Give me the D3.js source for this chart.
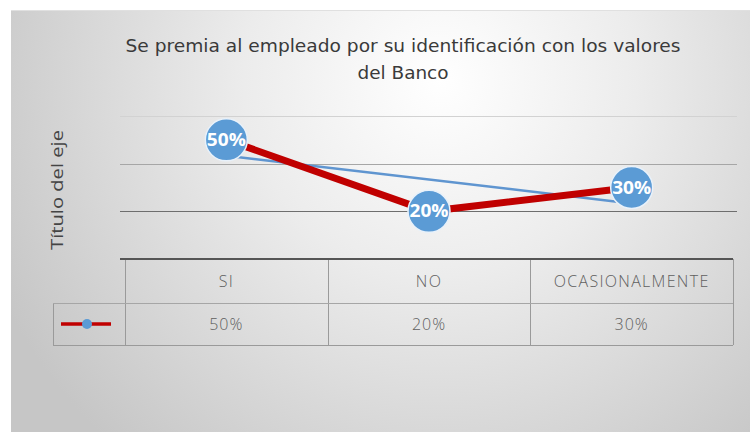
<!DOCTYPE html>
<html>
<head>
<meta charset="utf-8">
<script src="https://cdn.jsdelivr.net/npm/d3@7"></script>
<style>
  html, body { margin: 0; padding: 0; background: #fff; }
  svg { display: block; }
</style>
</head>
<body>
<div id="chart"></div>
<script>
// ── Data ─────────────────────────────────────────────────────
const categories = ['SI', 'NO', 'OCASIONALMENTE'];
const values     = [0.5, 0.2, 0.3];
const valueLabels = ['50%', '20%', '30%'];
const yTicks     = [0.2, 0.4, 0.6];
const titleLines = ['Se premia al empleado por su identificación con los valores', 'del Banco'];
const axisTitle  = 'Título del eje';

const W = 750, H = 432;
const FONT   = "'Open Sans', 'Noto Sans', sans-serif";
const NARROW = "'Liberation Sans Narrow', 'DejaVu Sans Condensed', 'Open Sans', sans-serif";

const svg = d3.select('#chart').append('svg')
  .attr('width', W).attr('height', H);

// ── Background ───────────────────────────────────────────────
const defs = svg.append('defs');
const grad = defs.append('radialGradient')
  .attr('id', 'bg').attr('gradientUnits', 'userSpaceOnUse')
  .attr('cx', 440).attr('cy', 80).attr('r', 490);
grad.append('stop').attr('offset', '0%').attr('stop-color', '#ffffff');
grad.append('stop').attr('offset', '40%').attr('stop-color', '#ececec');
grad.append('stop').attr('offset', '100%').attr('stop-color', '#c6c6c6');

svg.append('rect').attr('x', 11).attr('y', 10)
  .attr('width', W - 11).attr('height', H - 10)
  .attr('fill', 'url(#bg)');
svg.append('line').attr('x1', 11).attr('x2', W).attr('y1', 10.5).attr('y2', 10.5)
  .attr('stroke', '#e0e0e0');

// ── Scales ───────────────────────────────────────────────────
const x = d3.scaleBand().domain(categories).range([125, 733]);
const y = d3.scaleLinear().domain([0, 0.6]).range([259, 116]);
const cx = c => x(c) + x.bandwidth() / 2;

// ── Title ────────────────────────────────────────────────────
const titleWidths = [555, 91];
svg.append('g').selectAll('text').data(titleLines).join('text')
  .attr('x', 403).attr('y', (d, i) => 52 + i * 27)
  .attr('text-anchor', 'middle')
  .attr('fill', '#3a3a3a').attr('font-family', NARROW).attr('font-size', 17.5)
  .attr('textLength', (d, i) => titleWidths[i])
  .attr('lengthAdjust', 'spacingAndGlyphs')
  .text(d => d);

// Axis title
svg.append('text')
  .attr('transform', 'translate(63,190) rotate(-90)')
  .attr('text-anchor', 'middle')
  .attr('fill', '#444').attr('font-family', FONT).attr('font-size', 16)
  .attr('textLength', 120).attr('lengthAdjust', 'spacingAndGlyphs')
  .text(axisTitle);

// ── Gridlines ────────────────────────────────────────────────
const gridColors = ['#6e6e6e', '#a6a6a6', '#d2d2d2'];
svg.append('g').selectAll('line').data(yTicks).join('line')
  .attr('x1', 120).attr('x2', 737)
  .attr('y1', d => Math.round(y(d)) + 0.5).attr('y2', d => Math.round(y(d)) + 0.5)
  .attr('stroke', (d, i) => gridColors[i]).attr('stroke-width', 1.2);

// ── Trendline (linear) ───────────────────────────────────────
const n = values.length;
const mx = d3.mean(d3.range(n)), my = d3.mean(values);
const slope = d3.sum(d3.range(n), i => (i - mx) * (values[i] - my)) /
              d3.sum(d3.range(n), i => (i - mx) ** 2);
const trend = d3.range(n).map(i => my + slope * (i - mx));

svg.append('line')
  .attr('x1', cx(categories[0])).attr('y1', y(trend[0]))
  .attr('x2', cx(categories[n - 1])).attr('y2', y(trend[n - 1]))
  .attr('stroke', '#5f95d0').attr('stroke-width', 2.5);

// ── Series line ──────────────────────────────────────────────
const line = d3.line().x((d, i) => cx(categories[i])).y(d => y(d));
svg.append('path').datum(values)
  .attr('d', line)
  .attr('fill', 'none').attr('stroke', '#c00000')
  .attr('stroke-width', 7).attr('stroke-linejoin', 'miter');

// ── Markers + labels ─────────────────────────────────────────
const pts = svg.append('g').selectAll('g').data(values).join('g')
  .attr('transform', (d, i) => `translate(${cx(categories[i])},${y(d)})`);
pts.append('circle').attr('r', 21)
  .attr('fill', '#5b9bd5').attr('stroke', '#e8f1fa').attr('stroke-width', 1.5);
pts.append('text')
  .attr('text-anchor', 'middle').attr('dy', '0.36em')
  .attr('fill', '#fff').attr('font-family', FONT).attr('font-weight', 700)
  .attr('font-size', 17)
  .attr('textLength', 39).attr('lengthAdjust', 'spacingAndGlyphs')
  .text((d, i) => valueLabels[i]);

// ── Data table ───────────────────────────────────────────────
const tTop = y(0), tMid = 303, tBot = 345, legL = 53;
const tg = svg.append('g');
const edges = categories.map(c => x(c)).concat([x.range()[1]]);

tg.selectAll('.vline').data(edges).join('line')
  .attr('x1', d => Math.round(d) + 0.5).attr('x2', d => Math.round(d) + 0.5)
  .attr('y1', tTop).attr('y2', tBot)
  .attr('stroke', '#9a9a9a');
tg.append('line').attr('x1', legL + 0.5).attr('x2', legL + 0.5)
  .attr('y1', tMid).attr('y2', tBot).attr('stroke', '#9a9a9a');
tg.append('line').attr('x1', legL).attr('x2', 733).attr('y1', tMid + 0.5).attr('y2', tMid + 0.5)
  .attr('stroke', '#a6a6a6');
tg.append('line').attr('x1', legL).attr('x2', 733).attr('y1', tBot + 0.5).attr('y2', tBot + 0.5)
  .attr('stroke', '#9a9a9a');
tg.append('line').attr('x1', 120).attr('x2', 733).attr('y1', tTop).attr('y2', tTop)
  .attr('stroke', '#555').attr('stroke-width', 2);

tg.selectAll('.hdr').data(categories).join('text')
  .attr('x', d => cx(d)).attr('y', (tTop + tMid) / 2).attr('dy', '0.36em')
  .attr('text-anchor', 'middle')
  .attr('fill', '#5f5f5f').attr('font-family', FONT).attr('font-weight', 300)
  .attr('font-size', 16).attr('letter-spacing', 1.3)
  .text(d => d);

tg.selectAll('.val').data(values).join('text')
  .attr('x', (d, i) => cx(categories[i])).attr('y', (tMid + tBot) / 2).attr('dy', '0.36em')
  .attr('text-anchor', 'middle')
  .attr('fill', '#5f5f5f').attr('font-family', FONT).attr('font-weight', 300)
  .attr('font-size', 16).attr('letter-spacing', 1)
  .text((d, i) => valueLabels[i]);

// Legend key
const ky = (tMid + tBot) / 2;
tg.append('line').attr('x1', 61).attr('x2', 111).attr('y1', ky).attr('y2', ky)
  .attr('stroke', '#c00000').attr('stroke-width', 3.5);
tg.append('circle').attr('cx', 87).attr('cy', ky).attr('r', 5).attr('fill', '#5b9bd5');
</script>
</body>
</html>
